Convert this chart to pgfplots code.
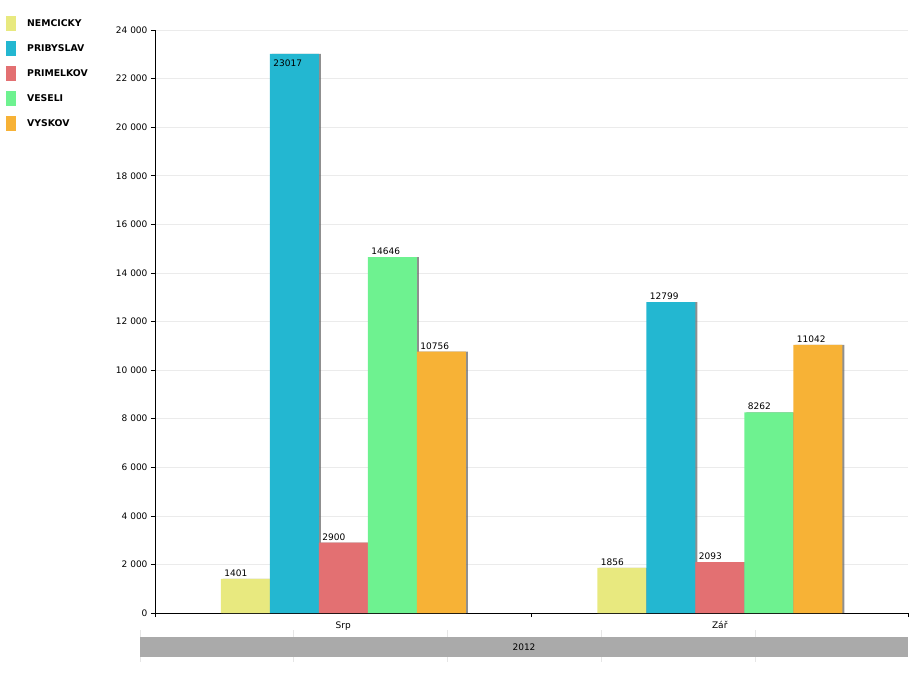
\documentclass[border=0pt]{standalone}
\usepackage{fontspec}
\setmainfont{DejaVu Sans}
\usepackage{pgfplots}
\pgfplotsset{compat=1.18}
\definecolor{cNem}{HTML}{E8E97F}
\definecolor{cPri}{HTML}{23B7D1}
\definecolor{cPrim}{HTML}{E37072}
\definecolor{cVes}{HTML}{6EF290}
\definecolor{cVys}{HTML}{F7B236}
\definecolor{gridgray}{HTML}{EBEBEB}
\definecolor{bandgray}{HTML}{AAAAAA}
\definecolor{faint}{HTML}{E6E6E6}
\definecolor{shadowgray}{HTML}{6A6A6A}
\newcommand{\smallfont}{\fontsize{9}{11}\selectfont}
\begin{document}
\begin{tikzpicture}
\useasboundingbox (0pt,0pt) rectangle (920pt,677pt);
% bottom band grid lines
\foreach \xx in {140,293,447,601,755}{\draw[faint, line width=0.6pt] (\xx pt,15pt) -- (\xx pt,47pt);}
\fill[bandgray] (140pt,20pt) rectangle (908pt,40pt);
\node[font=\smallfont] at (524pt,30pt) {2012};
\begin{axis}[
  at={(155pt,64pt)}, anchor=south west,
  scale only axis, width=753pt, height=583pt,
  xmin=-0.5, xmax=1.5, ymin=0, ymax=24000,
  enlargelimits=false,
  ybar=0pt, bar width=49pt,
  axis x line*=bottom, axis y line*=left,
  axis line style={black, line width=0.8pt, -},
  tick align=outside, major tick length=4pt,
  tick style={black, line width=0.6pt},
  ytick distance=2000, scaled y ticks=false,
  ymajorgrids, grid style={gridgray, line width=0.6pt},
  xtick={-0.5,0.5,1.5}, xticklabels={},
  extra x ticks={0,1}, extra x tick labels={Srp,Zář},
  extra x tick style={major tick length=0pt, tick style={draw=none}},
  x tick label style={font=\smallfont, yshift=-5pt},
  y tick label style={font=\smallfont, /pgf/number format/1000 sep={\ }},
  /pgf/number format/.cd, fixed, 1000 sep={}, assume math mode=true,
  /pgfplots/.cd,
  legend style={draw=none, fill=none, at={(axis description cs:0,1)}, anchor=north west,
    xshift=-149pt, yshift=14pt, font=\bfseries\fontsize{9.3}{11}\selectfont,
    row sep=10pt, inner sep=0pt, nodes={inner sep=0pt},
    /tikz/every odd column/.append style={column sep=11pt}},
  legend cell align=left,
  legend image code/.code={\fill[#1] (0pt,-7.5pt) rectangle (10pt,7.5pt);},
  every node near coord/.append style={anchor=south west, xshift=-23pt, inner sep=2pt, font=\smallfont, text=black},
]
% shadows
\addplot[forget plot, fill=shadowgray, draw=none, fill opacity=0.75, bar shift=-96pt] coordinates {(0,1401) (1,1856)};
\addplot[forget plot, fill=shadowgray, draw=none, fill opacity=0.75, bar shift=-47pt] coordinates {(0,23017) (1,12799)};
\addplot[forget plot, fill=shadowgray, draw=none, fill opacity=0.75, bar shift=2pt] coordinates {(0,2900) (1,2093)};
\addplot[forget plot, fill=shadowgray, draw=none, fill opacity=0.75, bar shift=51pt] coordinates {(0,14646) (1,8262)};
\addplot[forget plot, fill=shadowgray, draw=none, fill opacity=0.75, bar shift=100pt] coordinates {(0,10756) (1,11042)};
% bars
\addplot[fill=cNem, draw=none, bar shift=-98pt, nodes near coords] coordinates {(0,1401) (1,1856)};
\addplot[fill=cPri, draw=none, bar shift=-49pt, nodes near coords,
  visualization depends on={value \thisrow{off} \as \myoff},
  every node near coord/.append style={yshift=\myoff pt}] table[x=x, y=y] {
x y off
0 23017 -15
1 12799 0
};
\addplot[fill=cPrim, draw=none, bar shift=0pt, nodes near coords] coordinates {(0,2900) (1,2093)};
\addplot[fill=cVes, draw=none, bar shift=49pt, nodes near coords] coordinates {(0,14646) (1,8262)};
\addplot[fill=cVys, draw=none, bar shift=98pt, nodes near coords] coordinates {(0,10756) (1,11042)};
\legend{NEMCICKY, PRIBYSLAV, PRIMELKOV, VESELI, VYSKOV}
\end{axis}
\end{tikzpicture}
\end{document}
